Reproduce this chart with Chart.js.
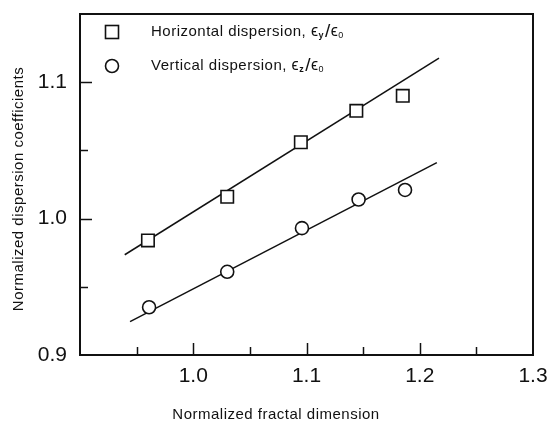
<!DOCTYPE html>
<html>
<head>
<meta charset="utf-8">
<script src="https://cdn.jsdelivr.net/npm/chart.js@4/dist/chart.umd.min.js"></script>
<style>
html,body{margin:0;padding:0;background:#fff;}
#wrap{width:551px;height:424px;}
</style>
</head>
<body>
<div id="wrap"><canvas id="c" width="551" height="424"></canvas></div>
<script>
// ---- data ----
const horizX = [0.960, 1.030, 1.095, 1.144, 1.185];
const horizY = [0.984, 1.016, 1.056, 1.079, 1.090];
const vertX  = [0.961, 1.030, 1.096, 1.146, 1.187];
const vertY  = [0.935, 0.961, 0.993, 1.014, 1.021];
const fitHorizX = [0.9395, 1.217];
const fitHorizY = [0.9735, 1.1176];
const fitVertX  = [0.9442, 1.2151];
const fitVertY  = [0.9245, 1.041];
const xTickLabels = ['1.0', '1.1', '1.2', '1.3'];
const yTickLabels = ['0.9', '1.0', '1.1'];
const legendLabels = [
  {pre: 'Horizontal dispersion, ', sub1: 'y', sub2: '0'},
  {pre: 'Vertical dispersion, ', sub1: 'z', sub2: '0'}
];
const xTitle = 'Normalized fractal dimension';
const yTitle = 'Normalized dispersion coefficients';

const zip = (xs, ys) => xs.map((x, i) => ({x: x, y: ys[i]}));
const INK = '#111';
const TXT = "'Liberation Sans', Arial, Helvetica, sans-serif";

const decorPlugin = {
  id: 'decor',
  afterDatasetsDraw(chart) {
    const ctx = chart.ctx;
    const a = chart.chartArea;
    const xs = chart.scales.x, ys = chart.scales.y;
    ctx.save();
    ctx.strokeStyle = INK;
    ctx.lineWidth = 2;
    ctx.strokeRect(a.left, a.top, a.right - a.left, a.bottom - a.top);
    ctx.lineWidth = 1.5;
    xs.ticks.forEach(t => {
      const v = t.value;
      if (v <= xs.min + 1e-9 || v >= xs.max - 1e-9) return;
      const major = Math.abs(Math.round(v * 10) - v * 10) < 1e-6;
      const p = Math.round(xs.getPixelForValue(v)) + 0.5;
      ctx.beginPath();
      ctx.moveTo(p, a.bottom);
      ctx.lineTo(p, a.bottom - (major ? 12 : 8));
      ctx.stroke();
    });
    ys.ticks.forEach(t => {
      const v = t.value;
      if (v <= ys.min + 1e-9 || v >= ys.max - 1e-9) return;
      const major = Math.abs(Math.round(v * 10) - v * 10) < 1e-6;
      const p = Math.round(ys.getPixelForValue(v)) + 0.5;
      ctx.beginPath();
      ctx.moveTo(a.left, p);
      ctx.lineTo(a.left + (major ? 12 : 8), p);
      ctx.stroke();
    });
    ctx.restore();
  },
  afterDraw(chart) {
    const ctx = chart.ctx;
    ctx.save();
    ctx.fillStyle = INK;
    ctx.strokeStyle = INK;
    // axis titles
    ctx.font = '15px ' + TXT;
    try { ctx.letterSpacing = '0.5px'; } catch (e) {}
    ctx.textAlign = 'center';
    ctx.textBaseline = 'middle';
    ctx.fillText(xTitle, 276, 415);
    ctx.save();
    ctx.translate(19, 189);
    ctx.rotate(-Math.PI / 2);
    ctx.fillText(yTitle, 0, 0);
    ctx.restore();
    // legend
    ctx.lineWidth = 1.6;
    ctx.fillStyle = '#fff';
    ctx.fillRect(105.5, 25.5, 13, 13);
    ctx.strokeRect(105.5, 25.5, 13, 13);
    ctx.beginPath();
    ctx.arc(112, 66, 6.5, 0, Math.PI * 2);
    ctx.fill();
    ctx.stroke();
    ctx.fillStyle = INK;
    ctx.textAlign = 'left';
    const rows = [32, 66];
    legendLabels.forEach((L, i) => {
      let x = 151;
      const y = rows[i];
      ctx.font = '15px ' + TXT;
      ctx.fillText(L.pre, x, y); x += ctx.measureText(L.pre).width;
      ctx.font = '16px ' + TXT;
      ctx.fillText('\u03F5', x, y); x += ctx.measureText('\u03F5').width;
      ctx.font = 'bold 9px ' + TXT;
      ctx.fillText(L.sub1, x, y + 4); x += ctx.measureText(L.sub1).width + 1;
      ctx.font = '19px ' + TXT;
      ctx.fillText('/', x, y); x += ctx.measureText('/').width;
      ctx.font = '16px ' + TXT;
      ctx.fillText('\u03F5', x, y); x += ctx.measureText('\u03F5').width;
      ctx.font = '9px ' + TXT;
      ctx.fillText(L.sub2, x, y + 4);
    });
    ctx.restore();
  }
};

new Chart(document.getElementById('c'), {
  type: 'scatter',
  data: {
    datasets: [
      {
        label: 'Horizontal dispersion',
        data: zip(horizX, horizY),
        pointStyle: 'rect',
        pointRadius: 8.8,
        pointBackgroundColor: '#fff',
        pointBorderColor: INK,
        pointBorderWidth: 1.6,
        showLine: false,
        order: 1
      },
      {
        label: 'Vertical dispersion',
        data: zip(vertX, vertY),
        pointStyle: 'circle',
        pointRadius: 6.5,
        pointBackgroundColor: '#fff',
        pointBorderColor: INK,
        pointBorderWidth: 1.6,
        showLine: false,
        order: 1
      },
      {
        label: 'fit H',
        data: zip(fitHorizX, fitHorizY),
        showLine: true,
        borderColor: INK,
        borderWidth: 1.5,
        pointRadius: 0,
        order: 2
      },
      {
        label: 'fit V',
        data: zip(fitVertX, fitVertY),
        showLine: true,
        borderColor: INK,
        borderWidth: 1.5,
        pointRadius: 0,
        order: 2
      }
    ]
  },
  options: {
    responsive: false,
    animation: false,
    events: [],
    layout: {padding: {left: 0, top: 14, right: 18, bottom: 0}},
    plugins: {legend: {display: false}, tooltip: {enabled: false}},
    scales: {
      x: {
        type: 'linear',
        min: 0.9, max: 1.3,
        grid: {display: false, drawTicks: false},
        border: {display: false},
        afterFit(s) { s.height = 69; s.paddingLeft = 0; s.paddingRight = 0; },
        ticks: {
          stepSize: 0.05,
          autoSkip: false,
          maxRotation: 0,
          padding: 9,
          color: INK,
          font: {size: 21, family: TXT},
          callback(v) {
            const k = Math.round(v * 100);
            if (k % 10 !== 0) return '';
            const s = (k / 100).toFixed(1);
            return xTickLabels.includes(s) ? s : '';
          }
        }
      },
      y: {
        type: 'linear',
        min: 0.9, max: 1.15,
        grid: {display: false, drawTicks: false},
        border: {display: false},
        afterFit(s) { s.width = 80; s.paddingTop = 0; s.paddingBottom = 0; },
        ticks: {
          stepSize: 0.05,
          autoSkip: false,
          padding: 13,
          color: INK,
          font: {size: 21, family: TXT},
          callback(v) {
            const k = Math.round(v * 100);
            if (k % 10 !== 0) return '';
            const s = (k / 100).toFixed(1);
            return yTickLabels.includes(s) ? s : '';
          }
        }
      }
    }
  },
  plugins: [decorPlugin]
});
</script>
</body>
</html>
